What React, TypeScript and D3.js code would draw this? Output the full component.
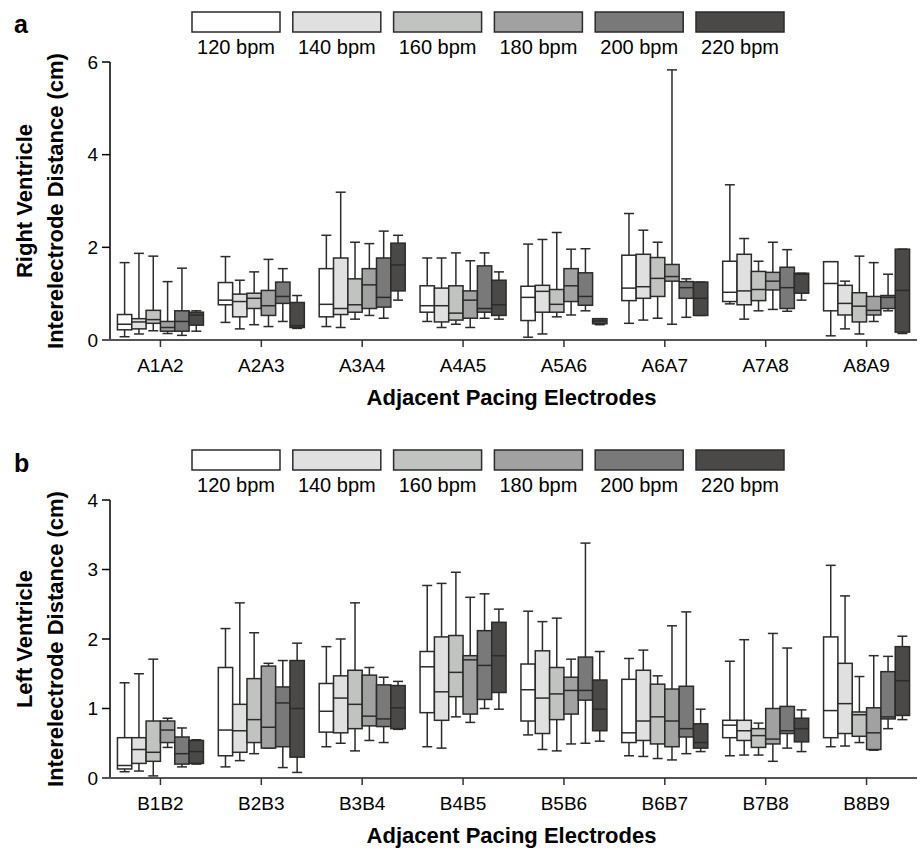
import React from "react";
import * as d3 from "d3";

const bpmLabels = ["120 bpm", "140 bpm", "160 bpm", "180 bpm", "200 bpm", "220 bpm"];
const bpmFills = ["#ffffff", "#e0e0e0", "#c1c3c1", "#a0a1a0", "#797979", "#4b4947"];

const rvCategories = ["A1A2", "A2A3", "A3A4", "A4A5", "A5A6", "A6A7", "A7A8", "A8A9"];
const lvCategories = ["B1B2", "B2B3", "B3B4", "B4B5", "B5B6", "B6B7", "B7B8", "B8B9"];

// each box: [low whisker, q1, median, q3, high whisker], one per bpm
const rvBoxes = [
  [[0.07, 0.22, 0.34, 0.55, 1.67], [0.13, 0.24, 0.39, 0.46, 1.87], [0.2, 0.36, 0.44, 0.64, 1.81], [0.14, 0.19, 0.27, 0.4, 1.26], [0.1, 0.19, 0.4, 0.63, 1.55], [0.19, 0.32, 0.54, 0.6, 0.63]],
  [[0.38, 0.76, 0.86, 1.24, 1.8], [0.24, 0.5, 0.83, 0.99, 1.29], [0.33, 0.68, 0.9, 1.01, 1.47], [0.29, 0.53, 0.74, 1.07, 1.74], [0.4, 0.79, 0.94, 1.25, 1.54], [0.25, 0.27, 0.31, 0.81, 0.96]],
  [[0.29, 0.5, 0.77, 1.54, 2.26], [0.27, 0.55, 0.68, 1.77, 3.19], [0.45, 0.6, 0.76, 1.32, 2.11], [0.53, 0.68, 1.19, 1.54, 2.08], [0.47, 0.71, 0.92, 1.77, 2.35], [0.86, 1.06, 1.62, 2.09, 2.26]],
  [[0.4, 0.6, 0.74, 1.17, 1.77], [0.27, 0.39, 0.74, 1.12, 1.77], [0.34, 0.43, 0.58, 1.17, 1.88], [0.27, 0.47, 0.86, 1.06, 1.71], [0.47, 0.6, 0.68, 1.6, 1.88], [0.45, 0.53, 0.76, 1.29, 1.47]],
  [[0.06, 0.42, 0.92, 1.16, 2.07], [0.13, 0.6, 1.05, 1.18, 2.17], [0.5, 0.6, 0.77, 1.09, 2.32], [0.54, 0.83, 1.17, 1.54, 1.96], [0.63, 0.75, 0.94, 1.45, 1.97], [0.33, 0.35, 0.41, 0.46, 0.46]],
  [[0.36, 0.85, 1.12, 1.83, 2.73], [0.43, 0.9, 1.15, 1.85, 2.37], [0.47, 0.94, 1.33, 1.78, 2.11], [0.34, 1.27, 1.37, 1.63, 5.83], [0.49, 0.9, 1.13, 1.26, 1.32], [0.53, 0.53, 0.9, 1.25, 1.25]],
  [[0.78, 0.83, 1.03, 1.7, 3.35], [0.45, 0.76, 1.06, 1.85, 2.19], [0.63, 0.85, 1.09, 1.48, 1.7], [0.66, 1.08, 1.27, 1.46, 2.11], [0.62, 0.68, 1.13, 1.57, 1.95], [0.86, 1.01, 1.42, 1.44, 1.44]],
  [[0.09, 0.63, 1.22, 1.69, 1.69], [0.24, 0.54, 0.79, 1.18, 1.27], [0.13, 0.39, 0.73, 1.02, 1.81], [0.4, 0.54, 0.64, 0.94, 1.67], [0.63, 0.68, 0.92, 0.96, 1.42], [0.14, 0.17, 1.07, 1.96, 1.96]],
];

const lvBoxes = [
  [[0.09, 0.13, 0.18, 0.58, 1.37], [0.1, 0.21, 0.41, 0.58, 1.5], [0.03, 0.24, 0.37, 0.82, 1.71], [0.44, 0.51, 0.69, 0.82, 0.86], [0.16, 0.2, 0.35, 0.59, 0.72], [0.2, 0.21, 0.38, 0.54, 0.55]],
  [[0.16, 0.32, 0.69, 1.59, 2.15], [0.25, 0.37, 0.68, 1.06, 2.52], [0.35, 0.51, 0.84, 1.43, 2.09], [0.43, 0.43, 0.73, 1.61, 1.65], [0.15, 0.45, 1.08, 1.31, 1.69], [0.08, 0.3, 1.0, 1.69, 1.94]],
  [[0.45, 0.66, 0.96, 1.36, 1.89], [0.5, 0.65, 1.15, 1.47, 2.0], [0.39, 0.71, 1.06, 1.55, 2.52], [0.54, 0.75, 0.89, 1.48, 1.59], [0.51, 0.74, 0.85, 1.34, 1.45], [0.7, 0.71, 1.01, 1.33, 1.39]],
  [[0.45, 0.94, 1.6, 1.82, 2.77], [0.43, 0.83, 1.24, 2.03, 2.8], [0.88, 1.17, 1.52, 2.05, 2.96], [0.8, 0.92, 1.7, 1.76, 2.6], [1.0, 1.13, 1.62, 2.12, 2.65], [0.99, 1.23, 1.76, 2.24, 2.43]],
  [[0.62, 0.82, 1.27, 1.64, 2.4], [0.41, 0.64, 1.15, 1.83, 2.25], [0.39, 0.84, 1.21, 1.59, 2.3], [0.49, 0.92, 1.26, 1.45, 1.71], [0.5, 1.12, 1.26, 1.74, 3.38], [0.53, 0.68, 0.99, 1.41, 1.82]],
  [[0.32, 0.51, 0.65, 1.42, 1.72], [0.31, 0.54, 0.82, 1.55, 1.84], [0.28, 0.49, 0.88, 1.35, 1.47], [0.26, 0.45, 0.82, 1.28, 2.19], [0.35, 0.59, 0.71, 1.32, 2.39], [0.38, 0.43, 0.51, 0.78, 0.99]],
  [[0.32, 0.58, 0.76, 0.83, 1.68], [0.33, 0.54, 0.68, 0.83, 1.99], [0.33, 0.44, 0.61, 0.71, 0.79], [0.24, 0.49, 0.56, 1.0, 2.08], [0.43, 0.64, 0.68, 1.03, 1.87], [0.38, 0.52, 0.71, 0.86, 0.98]],
  [[0.45, 0.58, 0.97, 2.03, 3.06], [0.46, 0.64, 1.07, 1.65, 2.62], [0.51, 0.6, 0.91, 0.95, 1.46], [0.4, 0.41, 0.65, 1.01, 1.76], [0.71, 0.85, 0.88, 1.53, 1.75], [0.84, 0.9, 1.4, 1.89, 2.04]],
];

const rvTicks = [0, 2, 4, 6];
const lvTicks = [0, 1, 2, 3, 4];

const font = "'Liberation Sans', Arial, sans-serif";
const stroke = "#2b2b2b";

type PanelProps = {
  letter: string;
  letterY: number;
  legendY: number;
  top: number;
  bottom: number;
  yMax: number;
  ticks: number[];
  categories: string[];
  boxes: number[][][];
  yTitle: string;
};

function Panel({ letter, letterY, legendY, top, bottom, yMax, ticks, categories, boxes, yTitle }: PanelProps) {
  const left = 110;
  const right = 917;
  const x = d3.scaleBand<string>().domain(categories).range([left, right]).padding(0);
  const inner = d3.scaleBand<string>().domain(bpmLabels).range([-43, 43]).padding(0);
  const y = d3.scaleLinear().domain([0, yMax]).range([bottom, top]);
  const bw = inner.bandwidth();
  const cap = 5;
  const midY = (top + bottom) / 2;

  return (
    <g>
      <text x={14} y={letterY} fontFamily={font} fontWeight="bold" fontSize={25}>
        {letter}
      </text>

      {/* legend */}
      {bpmLabels.map((lab, i) => {
        const lx = 192 + i * 100.8;
        return (
          <g key={lab}>
            <rect x={lx} y={legendY} width={88} height={20} fill={bpmFills[i]} stroke={stroke} strokeWidth={1.5} />
            <text x={lx + 44} y={legendY + 42} textAnchor="middle" fontFamily={font} fontSize={20}>
              {lab}
            </text>
          </g>
        );
      })}

      {/* y title */}
      <text transform={`translate(32,${midY}) rotate(-90)`} textAnchor="middle" fontFamily={font} fontWeight="bold" fontSize={22}>
        {letter === "a" ? "Right Ventricle" : "Left Ventricle"}
      </text>
      <text transform={`translate(63,${midY}) rotate(-90)`} textAnchor="middle" fontFamily={font} fontWeight="bold" fontSize={22}>
        {yTitle}
      </text>

      {/* y axis */}
      <line x1={left} x2={left} y1={top} y2={bottom} stroke="#000" strokeWidth={1.5} />
      {ticks.map((t) => (
        <g key={t}>
          <line x1={left - 8} x2={left} y1={y(t)} y2={y(t)} stroke="#000" strokeWidth={1.5} />
          <text x={left - 12} y={y(t)} dy="0.35em" textAnchor="end" fontFamily={font} fontSize={19}>
            {t}
          </text>
        </g>
      ))}

      {/* boxes */}
      {categories.map((c, ci) => (
        <g key={c} transform={`translate(${(x(c) ?? 0) + x.bandwidth() / 2},0)`}>
          {boxes[ci].map((b, bi) => {
            const bx = inner(bpmLabels[bi]) ?? 0;
            const cx = bx + bw / 2;
            const [lo, q1, med, q3, hi] = b;
            return (
              <g key={bi}>
                <line x1={cx} x2={cx} y1={y(lo)} y2={y(hi)} stroke={stroke} strokeWidth={1.5} />
                <line x1={cx - cap} x2={cx + cap} y1={y(hi)} y2={y(hi)} stroke={stroke} strokeWidth={1.5} />
                <line x1={cx - cap} x2={cx + cap} y1={y(lo)} y2={y(lo)} stroke={stroke} strokeWidth={1.5} />
                <rect x={bx} y={y(q3)} width={bw} height={Math.max(1, y(q1) - y(q3))} fill={bpmFills[bi]} stroke={stroke} strokeWidth={1.5} />
                <line x1={bx} x2={bx + bw} y1={y(med)} y2={y(med)} stroke={stroke} strokeWidth={1.5} />
              </g>
            );
          })}
        </g>
      ))}

      {/* x axis */}
      <line x1={left - 8} x2={right} y1={bottom} y2={bottom} stroke="#555" strokeWidth={2} />
      {categories.map((c) => {
        const cx = (x(c) ?? 0) + x.bandwidth() / 2;
        return (
          <g key={c}>
            <line x1={cx} x2={cx} y1={bottom} y2={bottom + 7} stroke="#333" strokeWidth={1.5} />
            <text x={cx} y={bottom + 32} textAnchor="middle" fontFamily={font} fontSize={19}>
              {c}
            </text>
          </g>
        );
      })}
      <text x={(left + right) / 2 - 2} y={bottom + 65} textAnchor="middle" fontFamily={font} fontWeight="bold" fontSize={22}>
        Adjacent Pacing Electrodes
      </text>
    </g>
  );
}

export default function App() {
  return (
    <svg width={920} height={848} style={{ position: "absolute", left: 0, top: 0, background: "#fff" }}>
      <rect width={920} height={848} fill="#fff" />
      <Panel
        letter="a"
        letterY={33}
        legendY={12}
        top={62}
        bottom={340}
        yMax={6}
        ticks={rvTicks}
        categories={rvCategories}
        boxes={rvBoxes}
        yTitle="Interelectrode Distance (cm)"
      />
      <Panel
        letter="b"
        letterY={472}
        legendY={450}
        top={500}
        bottom={778}
        yMax={4}
        ticks={lvTicks}
        categories={lvCategories}
        boxes={lvBoxes}
        yTitle="Interelectrode Distance (cm)"
      />
    </svg>
  );
}
